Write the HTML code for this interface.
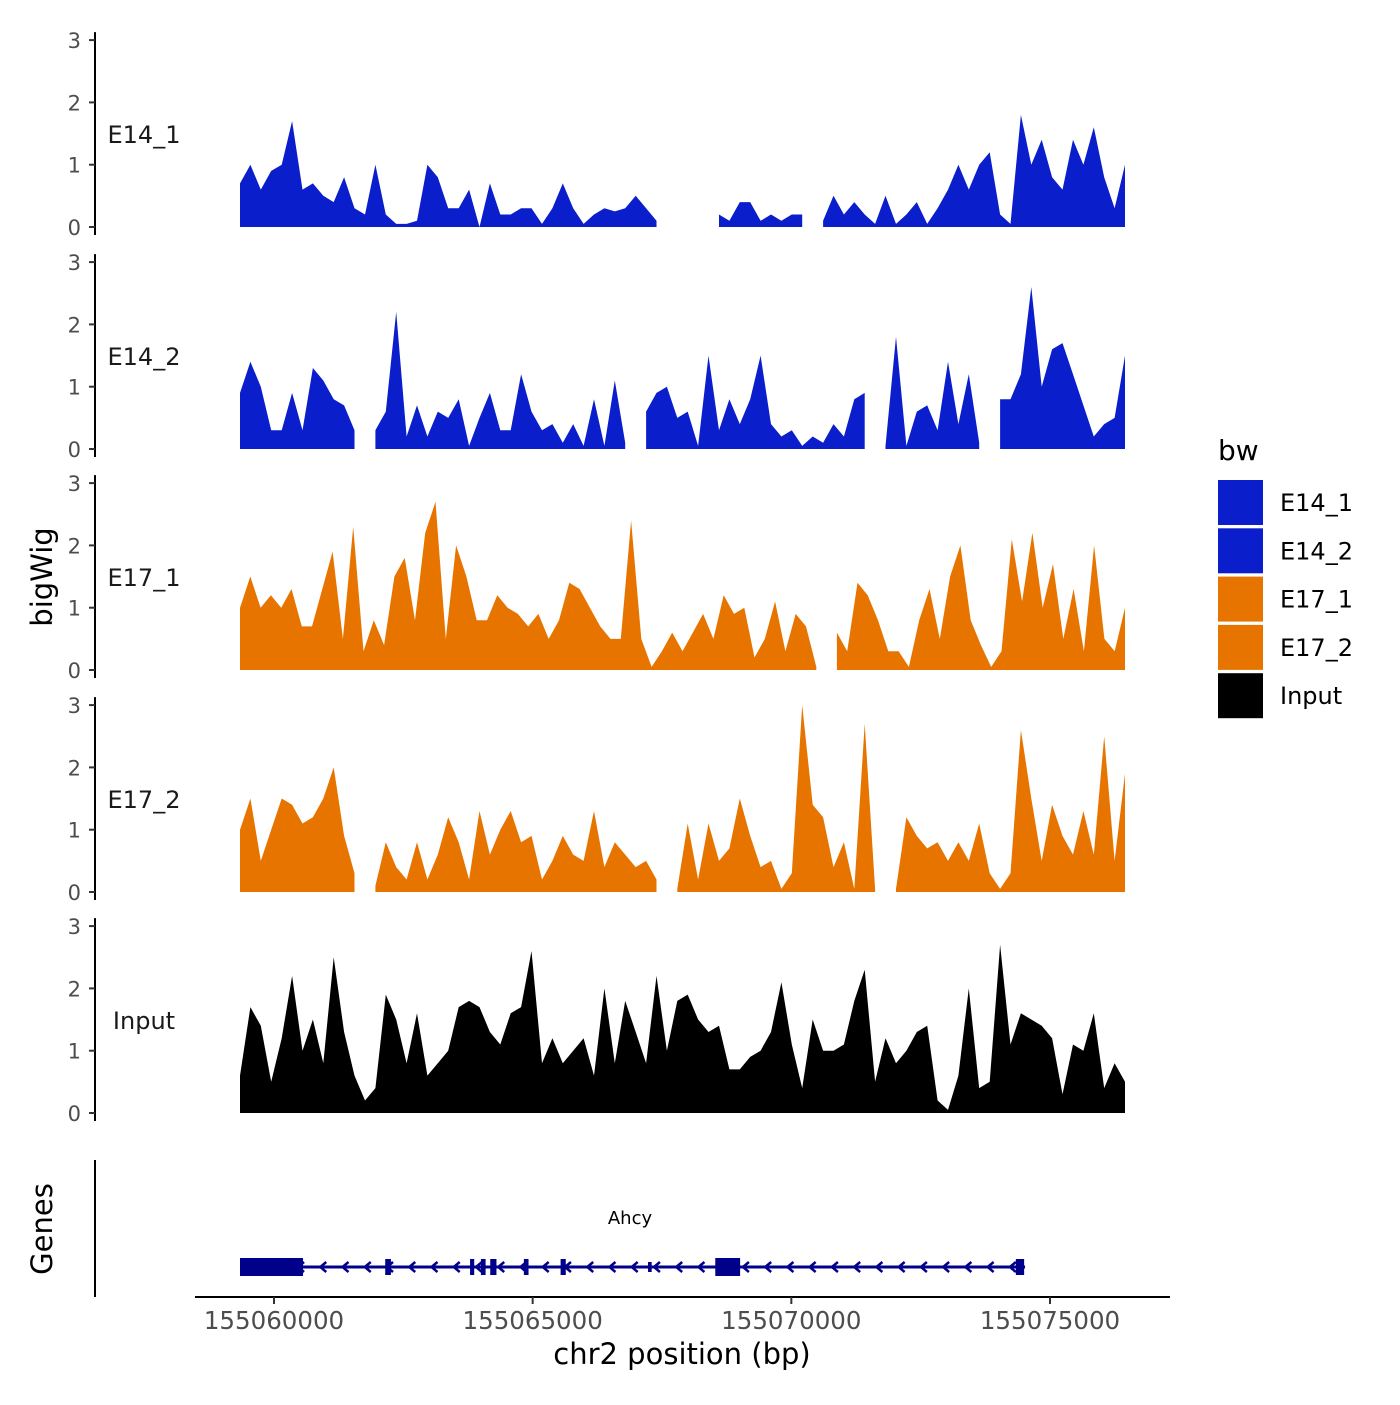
<!DOCTYPE html>
<html><head><meta charset="utf-8"><style>
body{margin:0;background:#fff}
svg text{font-family:"DejaVu Sans","Liberation Sans",sans-serif}
</style></head><body>
<svg id="chart" width="1400" height="1400" xmlns="http://www.w3.org/2000/svg">
<rect width="1400" height="1400" fill="#fff"/>
<text transform="translate(52,577) rotate(-90)" text-anchor="middle" font-size="29">bigWig</text>
<text transform="translate(52,1229) rotate(-90)" text-anchor="middle" font-size="29">Genes</text>
<text x="682" y="1364" text-anchor="middle" font-size="29">chr2 position (bp)</text>
<g id="tracks"></g><g id="genes"></g><g id="xaxis"></g>
<g>
<text x="1218" y="460" font-size="28">bw</text>
<g id="legend"></g>
</g>
</svg>
<script>
const NS='http://www.w3.org/2000/svg';
const trackNames=['E14_1','E14_2','E17_1','E17_2','Input'];
const trackColors=['#0a1ecc','#0a1ecc','#e87400','#e87400','#000000'];
const startBp=155059343, endBp=155076450;
const xTicks=[155060000,155065000,155070000,155075000];
const yTicks=[0,1,2,3];
const e14_1=[0.7,1.0,0.6,0.9,1.0,1.7,0.6,0.7,0.5,0.4,0.8,0.3,0.2,1.0,0.2,0.05,0.05,0.1,1.0,0.8,0.3,0.3,0.6,0,0.7,0.2,0.2,0.3,0.3,0.05,0.3,0.7,0.3,0.05,0.2,0.3,0.25,0.3,0.5,0.3,0.1,null,null,null,null,null,0.2,0.1,0.4,0.4,0.1,0.2,0.1,0.2,0.2,null,0.1,0.5,0.2,0.4,0.2,0.05,0.5,0.05,0.2,0.4,0.05,0.3,0.6,1.0,0.6,1.0,1.2,0.2,0.05,1.8,1.0,1.4,0.8,0.6,1.4,1.0,1.6,0.8,0.3,1.0];
const e14_2=[0.9,1.4,1.0,0.3,0.3,0.9,0.3,1.3,1.1,0.8,0.7,0.3,null,0.3,0.6,2.2,0.2,0.7,0.2,0.6,0.5,0.8,0.05,0.5,0.9,0.3,0.3,1.2,0.6,0.3,0.4,0.1,0.4,0.05,0.8,0.05,1.1,0.1,null,0.6,0.9,1.0,0.5,0.6,0.05,1.5,0.3,0.8,0.4,0.8,1.5,0.4,0.2,0.3,0.05,0.2,0.1,0.4,0.2,0.8,0.9,null,0.05,1.8,0.05,0.6,0.7,0.3,1.4,0.4,1.2,0.1,null,0.8,0.8,1.2,2.6,1.0,1.6,1.7,1.2,0.7,0.2,0.4,0.5,1.5];
const e17_1=[1.0,1.5,1.0,1.2,1.0,1.3,0.7,0.7,1.3,1.9,0.5,2.3,0.3,0.8,0.4,1.5,1.8,0.8,2.2,2.7,0.5,2.0,1.5,0.8,0.8,1.2,1.0,0.9,0.7,0.9,0.5,0.8,1.4,1.3,1.0,0.7,0.5,0.5,2.4,0.5,0.05,0.3,0.6,0.3,0.6,0.9,0.5,1.2,0.9,1.0,0.2,0.5,1.1,0.3,0.9,0.7,0.05,null,0.6,0.3,1.4,1.2,0.8,0.3,0.3,0.05,0.8,1.3,0.5,1.5,2.0,0.8,0.4,0.05,0.3,2.1,1.1,2.2,1.0,1.7,0.5,1.3,0.3,2.0,0.5,0.3,1.0];
const e17_2=[1.0,1.5,0.5,1.0,1.5,1.4,1.1,1.2,1.5,2.0,0.9,0.3,null,0.1,0.8,0.4,0.2,0.8,0.2,0.6,1.2,0.8,0.2,1.3,0.6,1.0,1.3,0.8,0.9,0.2,0.5,0.9,0.6,0.5,1.3,0.4,0.8,0.6,0.4,0.5,0.2,null,0.05,1.1,0.2,1.1,0.5,0.7,1.5,0.9,0.4,0.5,0.05,0.3,3.0,1.4,1.2,0.4,0.8,0.05,2.7,0.05,null,0.05,1.2,0.9,0.7,0.8,0.5,0.8,0.5,1.1,0.3,0.05,0.3,2.6,1.5,0.5,1.4,0.9,0.6,1.3,0.6,2.5,0.5,1.9];
const input=[0.6,1.7,1.4,0.5,1.2,2.2,1.0,1.5,0.8,2.5,1.3,0.6,0.2,0.4,1.9,1.5,0.8,1.6,0.6,0.8,1.0,1.7,1.8,1.7,1.3,1.1,1.6,1.7,2.6,0.8,1.2,0.8,1.0,1.2,0.6,2.0,0.8,1.8,1.3,0.8,2.2,1.0,1.8,1.9,1.5,1.3,1.4,0.7,0.7,0.9,1.0,1.3,2.1,1.1,0.4,1.5,1.0,1.0,1.1,1.8,2.3,0.5,1.2,0.8,1.0,1.3,1.4,0.2,0.05,0.6,2.0,0.4,0.5,2.7,1.1,1.6,1.5,1.4,1.2,0.3,1.1,1.0,1.6,0.4,0.8,0.5];
const geneStart=155059343, geneEnd=155074518;
const exonStarts=[155059343,155062150,155063790,155064000,155064180,155064830,155065540,155067230,155068530,155074340];
const exonEnds=[155060561,155062260,155063870,155064090,155064300,155064920,155065640,155067300,155069010,155074500];
const exonHeights=[18,16,16,16,16,16,16,10,18,16];
const series=[e14_1,e14_2,e17_1,e17_2,input];

const xScale=bp=>274+(bp-155060000)*(776/15000);
const trackZero=[227,449,670,892,1113];
const yScale=(t,v)=>trackZero[t]-v*62.3;
function mk(tag,attrs,parent){const e=document.createElementNS(NS,tag);for(const k in attrs)e.setAttribute(k,attrs[k]);parent.appendChild(e);return e;}

const tracks=document.getElementById('tracks');
series.forEach((vals,t)=>{
  const g=mk('g',{},tracks);
  
  
  const step=(endBp-startBp)/(vals.length-1);
  let d='',seg=[];
  const flush=()=>{if(seg.length){const x0=seg[0][0],x1=seg[seg.length-1][0];
    d+='M'+x0+','+trackZero[t]+seg.map(p=>'L'+p[0]+','+p[1]).join('')+'L'+x1+','+trackZero[t]+'Z';}seg=[];};
  vals.forEach((v,i)=>{if(v===null){flush();}else seg.push([xScale(startBp+i*step).toFixed(1),yScale(t,v).toFixed(1)]);});
  flush();
  const p=mk('path',{d:d,fill:trackColors[t]},g);
  
  
  const ax=mk('line',{x1:95,x2:95,y1:yScale(t,3)-8,y2:trackZero[t]+8,stroke:'#000','stroke-width':2},g);
  
  
  yTicks.forEach(v=>{
    mk('line',{x1:89,x2:95,y1:yScale(t,v),y2:yScale(t,v),stroke:'#333','stroke-width':2},g);
    const tx=mk('text',{x:81,y:yScale(t,v)+8,'text-anchor':'end','font-size':21,fill:'#4d4d4d'},g);
    tx.textContent=v;
    
    
  });
  const lb=mk('text',{x:144,y:trackZero[t]-84,'text-anchor':'middle','font-size':24,fill:'#1a1a1a'},g);
  lb.textContent=trackNames[t];
  
  
});

const genes=document.getElementById('genes');
const gy=1267;
const ga=mk('line',{x1:95,x2:95,y1:1160,y2:1297,stroke:'#000','stroke-width':2},genes);


const gl=mk('line',{x1:xScale(geneStart),x2:xScale(geneEnd),y1:gy,y2:gy,stroke:'#00008b','stroke-width':3},genes);


for(let bp=geneStart+300;bp<geneEnd;bp+=430){
  const x=xScale(bp);
  const a=mk('path',{d:`M${x+4},${gy-5}L${x-2},${gy}L${x+4},${gy+5}`,stroke:'#00008b','stroke-width':2.5,fill:'none'},genes);
  
  
}
exonStarts.forEach((s,i)=>{
  const x0=xScale(s),x1=xScale(exonEnds[i]),h=exonHeights[i];
  const r=mk('rect',{x:x0,y:gy-h/2,width:Math.max(2,x1-x0),height:h,fill:'#00008b'},genes);
  
  
});
const gt=mk('text',{x:630,y:1224,'text-anchor':'middle','font-size':18},genes);
gt.textContent='Ahcy';



const xa=document.getElementById('xaxis');
const xl=mk('line',{x1:195,x2:1170,y1:1297,y2:1297,stroke:'#000','stroke-width':2},xa);


xTicks.forEach(v=>{
  const x=xScale(v);
  mk('line',{x1:x,x2:x,y1:1297,y2:1304,stroke:'#333','stroke-width':2},xa);
  const t=mk('text',{x:x,y:1329,'text-anchor':'middle','font-size':24.5,fill:'#4d4d4d'},xa);
  t.textContent=v;
  
  
});

const lg=document.getElementById('legend');
trackNames.forEach((n,i)=>{
  const y=480+i*48.3;
  const r=mk('rect',{x:1218,y:y,width:45,height:45,fill:trackColors[i]},lg);
  
  
  const t=mk('text',{x:1280,y:y+31,'font-size':24},lg);
  t.textContent=n;
  
  
});
</script>
</body></html>
